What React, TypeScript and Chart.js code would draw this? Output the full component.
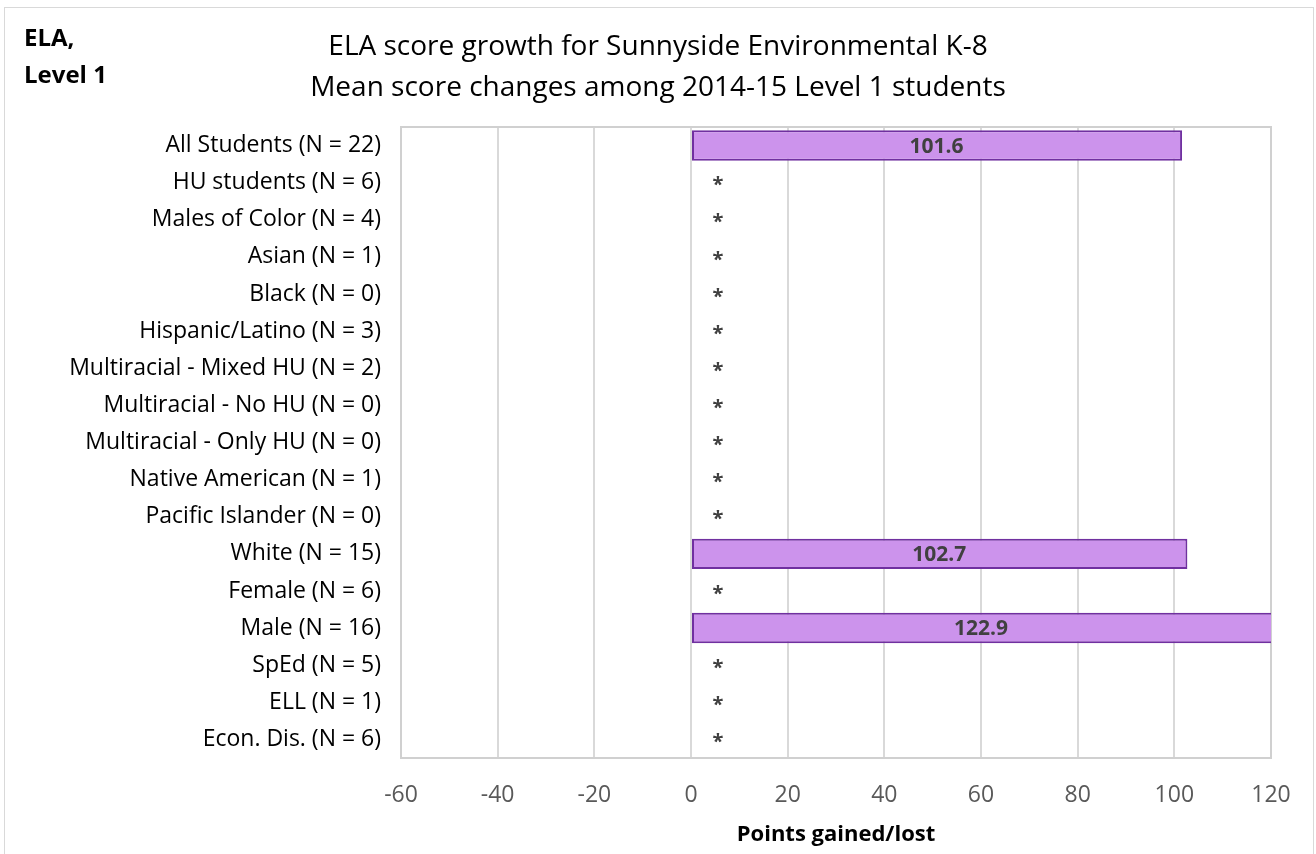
import React, { useEffect, useRef } from "react";
import { Chart, registerables } from "chart.js";

Chart.register(...registerables);

const categories = [
  "All Students (N = 22)",
  "HU students (N = 6)",
  "Males of Color (N = 4)",
  "Asian (N = 1)",
  "Black (N = 0)",
  "Hispanic/Latino (N = 3)",
  "Multiracial - Mixed HU (N = 2)",
  "Multiracial - No HU (N = 0)",
  "Multiracial - Only HU (N = 0)",
  "Native American (N = 1)",
  "Pacific Islander (N = 0)",
  "White (N = 15)",
  "Female (N = 6)",
  "Male (N = 16)",
  "SpEd (N = 5)",
  "ELL (N = 1)",
  "Econ. Dis. (N = 6)",
];

// null = suppressed (shown as "*")
const meanChange: (number | null)[] = [
  101.6, null, null, null, null, null, null, null, null, null, null, 102.7, null, 122.9, null, null, null,
];

const suppressedMark = "*";
const titleLines = [
  "ELA score growth for Sunnyside Environmental K-8",
  "Mean score changes among 2014-15 Level 1 students",
];
const xAxisTitle = "Points gained/lost";
const xMin = -60;
const xMax = 120;
const xStep = 20;

const FONT = "'Open Sans', sans-serif";

const titlePlugin = {
  id: "centeredTitle",
  afterDraw(chart: any) {
    const { ctx, width } = chart;
    ctx.save();
    ctx.fillStyle = "#000000";
    ctx.font = `28px ${FONT}`;
    ctx.textAlign = "center";
    ctx.textBaseline = "middle";
    titleLines.forEach((t, i) => ctx.fillText(t, width / 2, 47 + i * 41));
    ctx.restore();
  },
};

const boxPlugin = {
  id: "plotBox",
  beforeDatasetsDraw(chart: any) {
    const { ctx, chartArea } = chart;
    ctx.save();
    ctx.strokeStyle = "#d0d0d0";
    ctx.lineWidth = 2;
    ctx.strokeRect(chartArea.left, chartArea.top, chartArea.right - chartArea.left, chartArea.bottom - chartArea.top);
    ctx.restore();
  },
};

const labelPlugin = {
  id: "valueLabels",
  afterDatasetsDraw(chart: any) {
    const { ctx, chartArea } = chart;
    const xs = chart.scales.x;
    const ys = chart.scales.y;
    const base = xs.getPixelForValue(0);
    ctx.save();
    ctx.textBaseline = "middle";
    ctx.fillStyle = "#404040";
    ctx.textAlign = "center";
    meanChange.forEach((v, i) => {
      const y = ys.getPixelForValue(i);
      if (v === null) {
        ctx.font = `bold 20px ${FONT}`;
        ctx.fillText(suppressedMark, base + 27, y + 3);
      } else {
        const end = Math.min(xs.getPixelForValue(v), chartArea.right);
        ctx.font = `bold 21px ${FONT}`;
        ctx.fillText(v.toFixed(1), (base + end) / 2, y + 1);
      }
    });
    ctx.restore();
  },
};

export default function App() {
  const ref = useRef<HTMLCanvasElement>(null);
  useEffect(() => {
    document.body.style.margin = "0";
    const chart = new Chart(ref.current!, {
      type: "bar",
      data: {
        labels: categories,
        datasets: [
          {
            data: meanChange as any,
            backgroundColor: "#cc93ec",
            borderColor: "#7030a0",
            borderWidth: 2,
            borderSkipped: false,
            barPercentage: 0.82,
            categoryPercentage: 1,
          },
        ],
      },
      options: {
        indexAxis: "y",
        animation: false,
        responsive: false,
        layout: { padding: { left: 0, right: 45, top: 127, bottom: 0 } },
        plugins: {
          legend: { display: false },
          tooltip: { enabled: false },
          title: { display: false },
        },
        scales: {
          x: {
            min: xMin,
            max: xMax,
            ticks: {
              stepSize: xStep,
              color: "#595959",
              font: { family: FONT, size: 23 },
              padding: 24,
            },
            grid: { color: "#d9d9d9", lineWidth: 2, drawTicks: false },
            border: { display: false },
            title: {
              display: true,
              text: xAxisTitle,
              color: "#000000",
              font: { family: FONT, size: 22, weight: "bold" },
              padding: { top: 0, bottom: 6 },
            },
            afterFit(scale: any) {
              scale.height = 96;
            },
          },
          y: {
            ticks: {
              color: "#000000",
              font: { family: FONT, size: 23 },
              padding: 20,
              autoSkip: false,
            },
            grid: { display: false, drawTicks: false },
            border: { display: false },
            afterFit(scale: any) {
              scale.width = 401;
            },
          },
        },
      },
      plugins: [titlePlugin, boxPlugin, labelPlugin],
    });
    return () => chart.destroy();
  }, []);

  return (
    <div style={{ position: "relative", width: 1316, height: 854, fontFamily: FONT }}>
      <canvas ref={ref} width={1316} height={854} style={{ position: "absolute", left: 0, top: 0 }} />
      <div
        style={{
          position: "absolute",
          left: 4,
          top: 7,
          width: 1308,
          height: 860,
          border: "1px solid #d9d9d9",
          pointerEvents: "none",
        }}
      />
      <div
        style={{
          position: "absolute",
          left: 24,
          top: 18,
          fontWeight: "bold",
          fontSize: 24,
          lineHeight: "37px",
          color: "#000",
        }}
      >
        ELA,
        <br />
        Level 1
      </div>
    </div>
  );
}
